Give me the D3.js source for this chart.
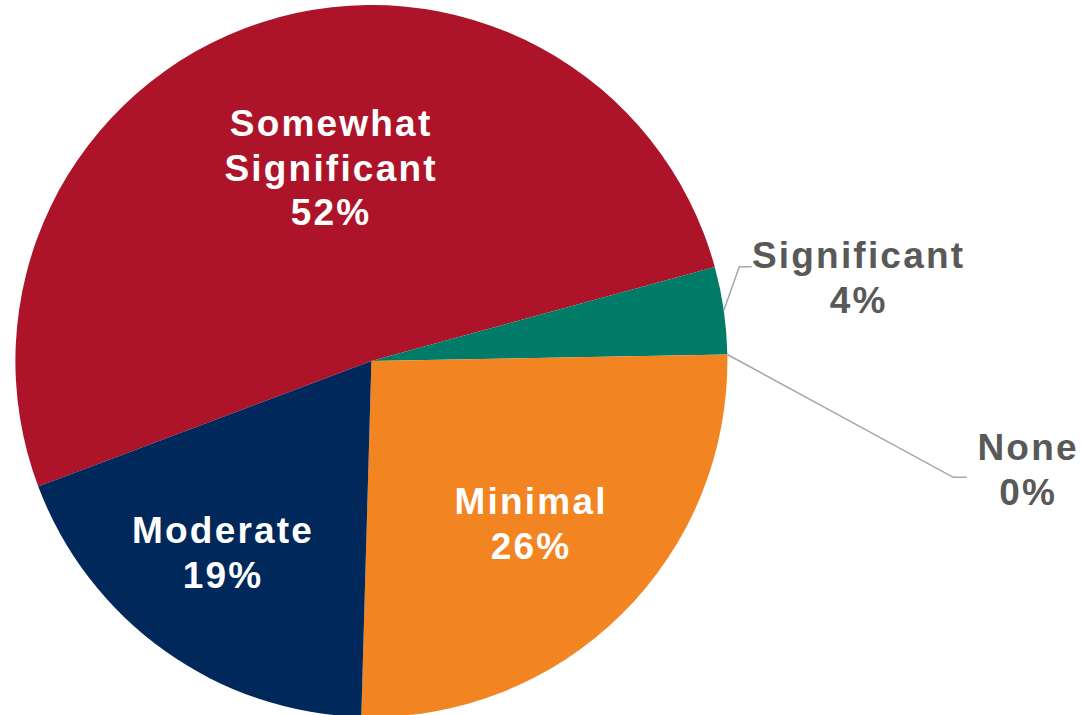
<!DOCTYPE html>
<html>
<head>
<meta charset="utf-8">
<script src="https://cdn.jsdelivr.net/npm/d3@7"></script>
<style>
  html, body { margin: 0; padding: 0; background: #ffffff; }
  svg { display: block; }
  text { font-family: "Liberation Sans", Arial, sans-serif; font-weight: bold; }
</style>
</head>
<body>
<svg id="chart" width="1082" height="715"></svg>
<script>
// Share of responses per impact level
const categories = ["Somewhat Significant", "Significant", "None", "Minimal", "Moderate"];
const values = [52, 4, 0, 26, 19];
const sliceColors = ["#AD1429", "#007B67", "#9E9E9E", "#F28422", "#00285A"];

// Layout
const width = 1082, height = 715;
const cx = 371.4, cy = 361, radius = 356;
const startDeg = -110.65;
const lineHeight = 44.5;
const fontSize = 37;
const spacing = 2.2;

// Label placement: inside labels are white, outside labels are grey with leader lines
const labelLayout = [
  { x: 330, y: 136, inside: true },
  { x: 857.5, y: 268, inside: false, elbow: [739.3, 266.7], end: [751.7, 266.7] },
  { x: 1027, y: 460, inside: false, elbow: [953.3, 477.3], end: [966.7, 477.3] },
  { x: 530, y: 514, inside: true },
  { x: 222, y: 543, inside: true }
];

const data = categories.map((c, i) => ({ category: c, value: values[i], color: sliceColors[i], layout: labelLayout[i] }));

const svg = d3.select("#chart");
const g = svg.append("g").attr("transform", `translate(${cx},${cy})`);

const pie = d3.pie()
  .value(d => d.value)
  .sort(null)
  .startAngle(startDeg * Math.PI / 180)
  .endAngle((startDeg + 360) * Math.PI / 180);

const arc = d3.arc().innerRadius(0).outerRadius(radius);
const arcs = pie(data);

g.selectAll("path.slice")
  .data(arcs.filter(a => a.endAngle > a.startAngle))
  .join("path")
  .attr("class", "slice")
  .attr("d", arc)
  .attr("fill", d => d.data.color);

// Leader lines for outside labels
const outerPoint = d3.arc().innerRadius(radius).outerRadius(radius);
arcs.filter(a => !a.data.layout.inside).forEach(a => {
  const [sx, sy] = outerPoint.centroid(a);
  const L = a.data.layout;
  svg.append("polyline")
    .attr("points", [[sx + cx, sy + cy], L.elbow, L.end].map(p => p.join(",")).join(" "))
    .attr("fill", "none")
    .attr("stroke", "#A6A6A6")
    .attr("stroke-width", 1.5);
});

// Labels
const fmt = d3.format(".0%");
const total = 100;
arcs.forEach(a => {
  const L = a.data.layout;
  const lines = a.data.category.split(" ").concat([fmt(a.data.value / total)]);
  const t = svg.append("text")
    .attr("text-anchor", "middle")
    .attr("font-size", fontSize)
    .attr("letter-spacing", spacing + "px")
    .attr("fill", L.inside ? "#FFFFFF" : "#595959");
  lines.forEach((ln, k) => {
    t.append("tspan")
      .attr("x", L.x + spacing / 2)
      .attr("y", L.y + k * lineHeight)
      .text(ln);
  });
});
</script>
</body>
</html>
